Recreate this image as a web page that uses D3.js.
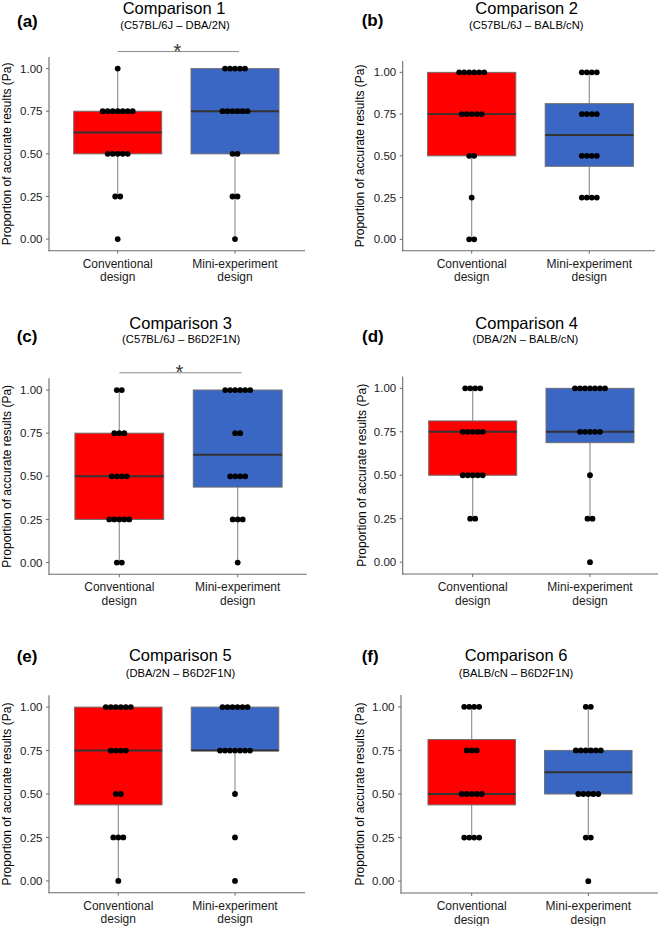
<!DOCTYPE html>
<html><head><meta charset="utf-8">
<script src="https://cdn.jsdelivr.net/npm/d3@7"></script>
<style>
html,body{margin:0;padding:0;background:#fff;}
svg{display:block;font-family:"Liberation Sans",Arial,sans-serif;}
</style></head>
<body><svg id="chart" width="660" height="926"></svg>
<script>
// ---------- data ----------
const panelTags = ["(a)", "(b)", "(c)", "(d)", "(e)", "(f)"];
const comparisonTitles = ["Comparison 1", "Comparison 2", "Comparison 3", "Comparison 4", "Comparison 5", "Comparison 6"];
const strainPairs = ["(C57BL/6J \u2013 DBA/2N)", "(C57BL/6J \u2013 BALB/cN)", "(C57BL/6J \u2013 B6D2F1N)",
                     "(DBA/2N \u2013 BALB/cN)", "(DBA/2N \u2013 B6D2F1N)", "(BALB/cN \u2013 B6D2F1N)"];
const designs = ["Conventional design", "Mini-experiment design"];
const yTicks = [0, 0.25, 0.5, 0.75, 1];
const yAxisTitle = "Proportion of accurate results (Pa)";
const significant = [true, false, true, false, false, false];

// proportion of accurate results per outcome measure (16 per group)
const conventionalPa = [
  [1, .75,.75,.75,.75,.75,.75,.75, .5,.5,.5,.5,.5, .25,.25, 0],
  [1,1,1,1,1,1, .75,.75,.75,.75,.75, .5,.5, .25, 0,0],
  [1,1, .75,.75,.75, .5,.5,.5,.5, .25,.25,.25,.25,.25, 0,0],
  [1,1,1,1, .75,.75,.75,.75,.75, .5,.5,.5,.5,.5, .25,.25],
  [1,1,1,1,1,1, .75,.75,.75,.75, .5,.5, .25,.25,.25, 0],
  [1,1,1,1, .75,.75,.75, .5,.5,.5,.5,.5, .25,.25,.25,.25]
];
const miniPa = [
  [1,1,1,1,1, .75,.75,.75,.75,.75,.75, .5,.5, .25,.25, 0],
  [1,1,1,1, .75,.75,.75,.75, .5,.5,.5,.5, .25,.25,.25,.25],
  [1,1,1,1,1,1, .75,.75, .5,.5,.5,.5, .25,.25,.25, 0],
  [1,1,1,1,1,1,1, .75,.75,.75,.75,.75, .5, .25,.25, 0],
  [1,1,1,1,1,1, .75,.75,.75,.75,.75,.75,.75, .5, .25, 0],
  [1,1, .75,.75,.75,.75,.75,.75, .5,.5,.5,.5,.5, .25,.25, 0]
];
const fillColors = ["#ff0000", "#3a66c4"];

// ---------- layout (pixels) ----------
const layout = [
 {left:49,   right:305, top:57,    bottom:250.7, c1:117.7, c2:235,   titleX:174,   titleY:14,  subX:175,   subY:29,  tagX:17,    tagY:27,  yTitleX:6.7},
 {left:402.7,right:655, top:61,    bottom:250.7, c1:471.7, c2:589.3, titleX:526.7, titleY:14,  subX:526.3, subY:29,  tagX:361.7, tagY:26,  yTitleX:360},
 {left:49,   right:306.7,top:378.3,bottom:574.3, c1:119.3, c2:237.7, titleX:180.7, titleY:329, subX:181.2, subY:343, tagX:16.7,  tagY:342, yTitleX:6.7},
 {left:402.7,right:658, top:376.5, bottom:574,   c1:472.7, c2:590,   titleX:526.7, titleY:329, subX:525.4, subY:343, tagX:362,   tagY:342, yTitleX:361.7},
 {left:49,   right:305, top:695.3, bottom:892.7, c1:118.3, c2:235,   titleX:180.3, titleY:661, subX:180.5, subY:677, tagX:16.7,  tagY:662, yTitleX:6.7},
 {left:401,  right:658, top:695,   bottom:893,   c1:471.7, c2:588.3, titleX:516,   titleY:661, subX:516,   subY:677, tagX:361.7, tagY:662, yTitleX:360}
];

const svg = d3.select("#chart");
svg.append("rect").attr("width",660).attr("height",926).attr("fill","#fff");

const axisColor = "#6b6b6b";
const dotR = 2.9, dotStep = 5;

function boxStats(vals){
  const s = vals.slice().sort(d3.ascending);
  const q1 = d3.quantile(s,.25), med = d3.quantile(s,.5), q3 = d3.quantile(s,.75);
  const iqr = q3-q1;
  const lo = d3.min(s.filter(v => v >= q1-1.5*iqr));
  const hi = d3.max(s.filter(v => v <= q3+1.5*iqr));
  return {q1, med, q3, lo, hi};
}

layout.forEach((L, i) => {
  const g = svg.append("g");
  const y = d3.scaleLinear().domain([-0.068, 1.068]).range([L.bottom, L.top]);
  const x = d3.scalePoint().domain(designs).range([L.c1, L.c2]);
  const step = x.step();
  const boxW = step*0.75;

  // tag, title, subtitle
  g.append("text").attr("x",L.tagX).attr("y",L.tagY).attr("font-size",17).attr("font-weight","bold")
    .attr("fill","#000").text(panelTags[i]);
  g.append("text").attr("x",L.titleX).attr("y",L.titleY).attr("text-anchor","middle").attr("font-size",16.5)
    .attr("fill","#000").text(comparisonTitles[i]);
  g.append("text").attr("x",L.subX).attr("y",L.subY).attr("text-anchor","middle").attr("font-size",11.2)
    .attr("fill","#000").text(strainPairs[i]);

  // y axis title
  g.append("text").attr("transform",`translate(${L.yTitleX},${(L.top+L.bottom)/2}) rotate(-90)`)
    .attr("text-anchor","middle").attr("dy","0.35em").attr("font-size",12).attr("fill","#000").text(yAxisTitle);

  // boxes
  const groups = [conventionalPa[i], miniPa[i]];
  groups.forEach((vals, k) => {
    const st = boxStats(vals);
    const cx = x(designs[k]);
    // whiskers
    g.append("line").attr("x1",cx).attr("x2",cx).attr("y1",y(st.q3)).attr("y2",y(st.hi))
      .attr("stroke","#8a8a8a").attr("stroke-width",1.1);
    g.append("line").attr("x1",cx).attr("x2",cx).attr("y1",y(st.q1)).attr("y2",y(st.lo))
      .attr("stroke","#8a8a8a").attr("stroke-width",1.1);
    g.append("rect").attr("x",cx-boxW/2).attr("width",boxW)
      .attr("y",y(st.q3)).attr("height",y(st.q1)-y(st.q3))
      .attr("fill",fillColors[k]).attr("stroke","#6e6e6e").attr("stroke-width",1);
    g.append("line").attr("x1",cx-boxW/2).attr("x2",cx+boxW/2).attr("y1",y(st.med)).attr("y2",y(st.med))
      .attr("stroke","#333").attr("stroke-width",1.9);
  });

  // dots
  groups.forEach((vals, k) => {
    const cx = x(designs[k]);
    const bins = d3.rollups(vals, v => v.length, v => v);
    bins.forEach(([v, n]) => {
      for (let j = 0; j < n; j++) {
        g.append("circle").attr("cx", cx + (j-(n-1)/2)*dotStep).attr("cy", y(v)).attr("r", dotR).attr("fill","#000");
      }
    });
  });

  // axes
  g.append("line").attr("x1",L.left).attr("x2",L.left).attr("y1",L.top).attr("y2",L.bottom+0.5)
    .attr("stroke",axisColor).attr("stroke-width",1.1);
  g.append("line").attr("x1",L.left-0.5).attr("x2",L.right).attr("y1",L.bottom).attr("y2",L.bottom)
    .attr("stroke",axisColor).attr("stroke-width",1.1);
  yTicks.forEach(t => {
    g.append("line").attr("x1",L.left-3).attr("x2",L.left).attr("y1",y(t)).attr("y2",y(t))
      .attr("stroke",axisColor).attr("stroke-width",1);
    g.append("text").attr("x",L.left-6.5).attr("y",y(t)).attr("dy","0.36em").attr("text-anchor","end")
      .attr("font-size",11.5).attr("fill","#1a1a1a").text(d3.format(".2f")(t));
  });
  designs.forEach(d => {
    const cx = x(d);
    g.append("line").attr("x1",cx).attr("x2",cx).attr("y1",L.bottom).attr("y2",L.bottom+3)
      .attr("stroke",axisColor).attr("stroke-width",1);
    const parts = d.split(" ");
    g.append("text").attr("x",cx).attr("y",L.bottom+17).attr("text-anchor","middle").attr("font-size",12)
      .attr("fill","#1a1a1a").text(parts[0]);
    g.append("text").attr("x",cx).attr("y",L.bottom+30.5).attr("text-anchor","middle").attr("font-size",12)
      .attr("fill","#1a1a1a").text(parts[1]);
  });

  // significance
  if (significant[i]) {
    const ly = y(1.1);
    g.append("line").attr("x1",x(designs[0])).attr("x2",x(designs[1])+4).attr("y1",ly).attr("y2",ly)
      .attr("stroke","#8a8a8a").attr("stroke-width",1);
    g.append("text").attr("x",(x(designs[0])+x(designs[1]))/2+1).attr("y",ly+6).attr("text-anchor","middle")
      .attr("font-size",20).attr("fill","#333").text("*");
  }
});
</script></body></html>
